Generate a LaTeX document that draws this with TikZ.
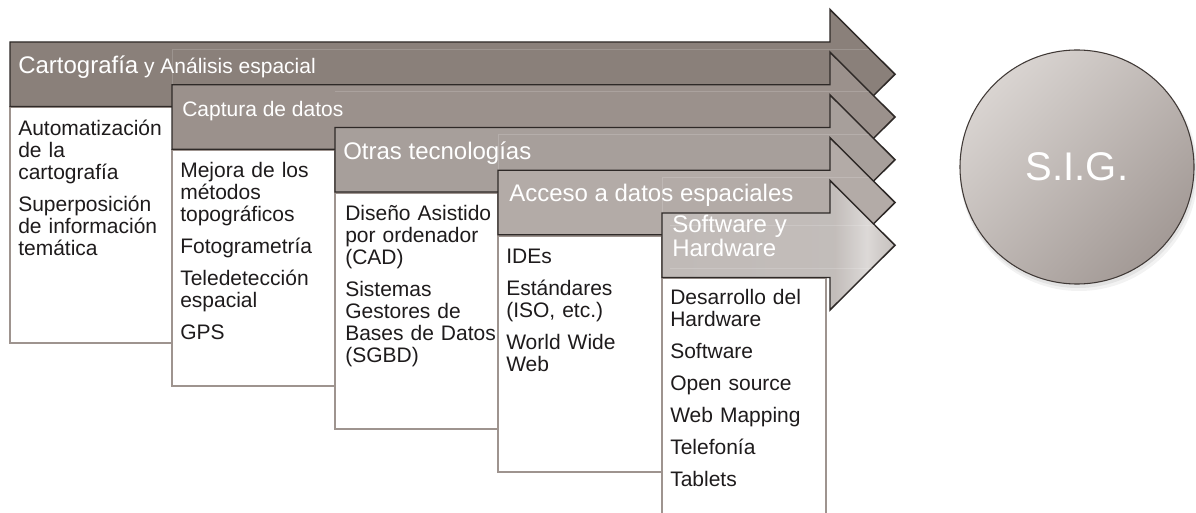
\documentclass[tikz,border=0pt]{standalone}
\usepackage{fontspec}
\setmainfont{Liberation Sans}
\definecolor{aone}{HTML}{8A807A}
\definecolor{atwo}{HTML}{9B918C}
\definecolor{athree}{HTML}{A79F9B}
\definecolor{afour}{HTML}{B3ABA7}
\definecolor{afive}{HTML}{C0BAB7}
\definecolor{arrowline}{HTML}{2E2927}
\definecolor{boxline}{HTML}{9E948F}
\definecolor{textdark}{HTML}{1E1B1C}
\definecolor{sigtop}{HTML}{D9D4D1}
\definecolor{sigbot}{HTML}{A39A96}
\definecolor{circline}{HTML}{3F3835}
\pgfdeclarehorizontalshading{afiveshade}{100bp}{color(0bp)=(afive); color(25bp)=(afive); color(62bp)=(afive!96!white); color(69bp)=(afive!55!white); color(72bp)=(afive!75!white); color(75bp)=(afive!90!white); color(100bp)=(afive!90!white)}
\tikzset{
  arrowshape/.style={draw=arrowline, line width=1.1pt, line join=miter},
  listbox/.style={draw=boxline, line width=1.5pt, fill=white},
  faint/.style={draw=white, opacity=0.16, line width=0.5pt},
  headtext/.style={anchor=base west, inner sep=0pt, text=white, font=\fontsize{15.75}{18}\selectfont},
  bighead/.style={headtext, font=\fontsize{18}{18}\selectfont},
  listtext/.style={anchor=base west, inner sep=0pt, text=textdark, text width=130pt, align=left, font=\fontsize{15.75}{16.5}\selectfont},
  sigcircle/.style={circle, draw=circline, line width=0.8pt, top color=sigtop, bottom color=sigbot, shading angle=45, minimum size=175.5pt, inner sep=0pt, text=white, font=\fontsize{30}{32}\selectfont}
}
\begin{document}
\begin{tikzpicture}[x=0.75pt,y=-0.75pt]
\useasboundingbox (0,0) rectangle (1196,513);
\fill[white] (0,0) rectangle (1196,513);

% step 1
\path[listbox] (10,107.5) rectangle (173,343);
\path[arrowshape, fill=aone] (10,42) -- (830,42) -- (830,9.5) -- (895,74.25) -- (830,139) -- (830,106.5) -- (10,106.5) -- cycle;
\path[faint] (172,84.75) -- (172,49) -- (869,49);
\node[headtext] (t1) at (18,74) {{\fontsize{18}{20}\selectfont Cartografía} y Análisis espacial};
\node[listtext] (b1) at (18,135.5) {Automatización\\de la\\cartografía\\[7.5pt]Superposición\\de información\\temática};

% step 2
\path[listbox] (172,150.25) rectangle (335,386);
\path[arrowshape, fill=atwo] (172,84.75) -- (830,84.75) -- (830,52.25) -- (895,117) -- (830,181.75) -- (830,149.25) -- (172,149.25) -- cycle;
\path[faint] (335,91.75) -- (869,91.75);
\node[headtext] (t2) at (182,117) {Captura de datos};
\node[listtext] (b2) at (180,177.5) {Mejora de los\\métodos\\topográficos\\[7.5pt]Fotogrametría\\[7.5pt]Teledetección\\espacial\\[7.5pt]GPS};

% step 3
\path[listbox] (335,193) rectangle (498,428.5);
\path[arrowshape, fill=athree] (335,127.5) -- (830,127.5) -- (830,95) -- (895,159.75) -- (830,224.5) -- (830,192) -- (335,192) -- cycle;
\path[faint] (498,170.25) -- (498,134.5) -- (869,134.5);
\node[bighead] (t3) at (343,160) {Otras tecnologías};
\node[listtext] (b3) at (345,220.5) {Diseño Asistido\\por ordenador\\(CAD)\\[7.5pt]Sistemas\\Gestores de\\Bases de Datos\\(SGBD)};

% step 4
\path[listbox] (498,235.75) rectangle (662,472);
\path[arrowshape, fill=afour] (498,170.25) -- (830,170.25) -- (830,137.75) -- (895,202.5) -- (830,267.25) -- (830,234.75) -- (498,234.75) -- cycle;
\path[faint] (662,213) -- (662,177.25) -- (869,177.25);
\node[bighead] (t4) at (509,202) {Acceso a datos espaciales};
\node[listtext] (b4) at (506,264) {IDEs\\[7.5pt]Estándares\\(ISO, etc.)\\[7.5pt]World Wide\\Web};

% step 5
\path[listbox] (662,278.5) rectangle (826,530);
\path[arrowshape, shade, shading=afiveshade] (662,213) -- (830,213) -- (830,180.5) -- (895,245.25) -- (830,310) -- (830,277.5) -- (662,277.5) -- cycle;
\path[faint] (670,225) -- (875,225);
\path[faint] (670,268) -- (872,268);
\node[bighead, text width=140pt, align=left] (t5) at (672,233) {Software y\\Hardware};
\node[listtext] (b5) at (670,305) {Desarrollo del\\Hardware\\[7.5pt]Software\\[7.5pt]Open source\\[7.5pt]Web Mapping\\[7.5pt]Telefonía\\[7.5pt]Tablets};

% S.I.G.
\fill[black, opacity=0.05] (1079,172) circle[radius=119];
\fill[black, opacity=0.06] (1078,170) circle[radius=118];
\node[sigcircle] (sig) at (1077,167) {S.I.G.};
\end{tikzpicture}
\end{document}
